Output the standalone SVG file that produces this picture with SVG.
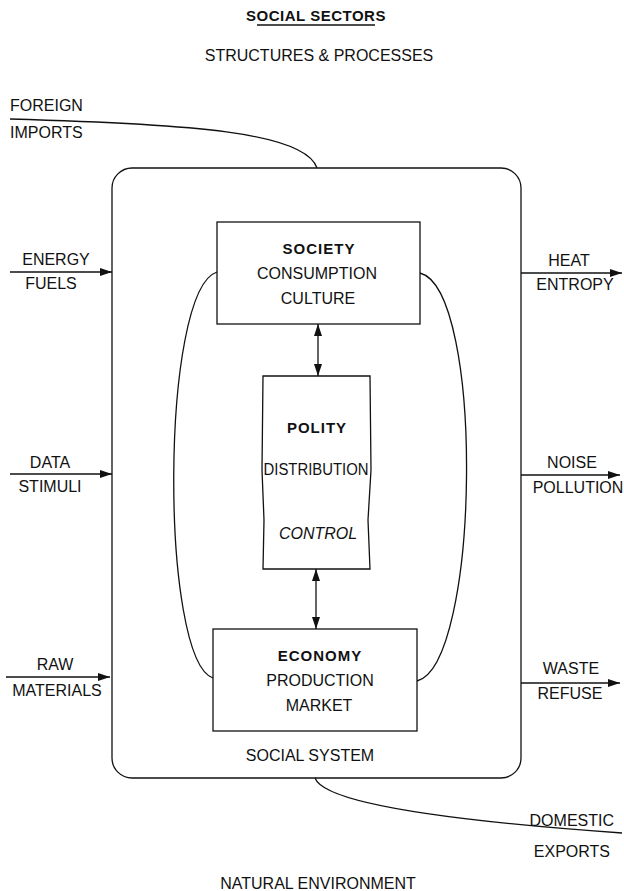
<svg xmlns="http://www.w3.org/2000/svg" width="624" height="891" viewBox="0 0 624 891">
<style>
text{font-family:"Liberation Sans",Arial,sans-serif;font-size:16px;fill:#111;text-anchor:middle}
.b{font-weight:bold;letter-spacing:1px;font-size:15px}
.l{text-anchor:start}
.r{text-anchor:end}
.ln{fill:none;stroke:#111;stroke-width:1.3}
.box{fill:#fff;stroke:#111;stroke-width:1.3}
</style>
<defs>
<marker id="ah" viewBox="0 0 12 8" refX="12" refY="4" markerWidth="12" markerHeight="8" markerUnits="userSpaceOnUse" orient="auto-start-reverse">
<path d="M0,0 L12,4 L0,8 Z" fill="#111"/>
</marker>
</defs>
<g id="titles">
<text x="316" y="21" class="b" style="letter-spacing:0.5px">SOCIAL SECTORS</text>
<line x1="257" y1="25" x2="375" y2="25" class="ln"/>
<text x="319" y="61">STRUCTURES &amp; PROCESSES</text>
<text x="318" y="889">NATURAL ENVIRONMENT</text>
</g>
<g id="social-system">
<rect x="112" y="168" width="409" height="610" rx="20" ry="20" class="ln"/>
<text x="310" y="761">SOCIAL SYSTEM</text>
</g>
<g id="connectors">
<path d="M10,119 C190,124 305,132 317,168" class="ln"/>
<path d="M315,778 C325,806 480,823 622,833" class="ln"/>
<line x1="10" y1="272" x2="112" y2="272" class="ln" marker-end="url(#ah)"/>
<line x1="10" y1="474" x2="112" y2="474" class="ln" marker-end="url(#ah)"/>
<line x1="6" y1="677" x2="110" y2="677" class="ln" marker-end="url(#ah)"/>
<line x1="521" y1="273" x2="622" y2="273" class="ln" marker-end="url(#ah)"/>
<line x1="521" y1="475" x2="620" y2="475" class="ln" marker-end="url(#ah)"/>
<line x1="521" y1="683" x2="620" y2="683" class="ln" marker-end="url(#ah)"/>
<path d="M217,272 C160,290 160,660 213,678" class="ln"/>
<path d="M420,273 C485,290 480,665 417,681" class="ln"/>
<line x1="318" y1="324" x2="318" y2="376" class="ln" marker-start="url(#ah)" marker-end="url(#ah)"/>
<line x1="316" y1="569" x2="316" y2="629" class="ln" marker-start="url(#ah)" marker-end="url(#ah)"/>
</g>
<g id="io-labels">
<text x="10" y="111" class="l">FOREIGN</text>
<text x="10" y="138" class="l">IMPORTS</text>
<text x="56" y="265">ENERGY</text>
<text x="51" y="289">FUELS</text>
<text x="50" y="468">DATA</text>
<text x="50" y="492">STIMULI</text>
<text x="55" y="670">RAW</text>
<text x="57" y="696">MATERIALS</text>
<text x="569" y="266">HEAT</text>
<text x="575" y="290">ENTROPY</text>
<text x="572" y="468">NOISE</text>
<text x="578" y="493">POLLUTION</text>
<text x="571" y="674">WASTE</text>
<text x="570" y="699">REFUSE</text>
<text x="614" y="826" class="r">DOMESTIC</text>
<text x="610" y="857" class="r">EXPORTS</text>
</g>
<g id="society">
<rect x="217" y="222" width="203" height="102" class="box"/>
<text x="319" y="254" class="b">SOCIETY</text>
<text x="317" y="279">CONSUMPTION</text>
<text x="318" y="304">CULTURE</text>
</g>
<g id="polity">
<path d="M263,376 L370,376 L371,470 L368,520 L370,569 L263,569 L264,520 L262,470 Z" class="box"/>
<text x="317" y="433" class="b">POLITY</text>
<text x="316" y="475" textLength="105" lengthAdjust="spacingAndGlyphs">DISTRIBUTION</text>
<text x="318" y="539" font-style="italic">CONTROL</text>
</g>
<g id="economy">
<rect x="213" y="629" width="204" height="102" class="box"/>
<text x="320" y="661" class="b">ECONOMY</text>
<text x="320" y="686">PRODUCTION</text>
<text x="319" y="711">MARKET</text>
</g>
</svg>
